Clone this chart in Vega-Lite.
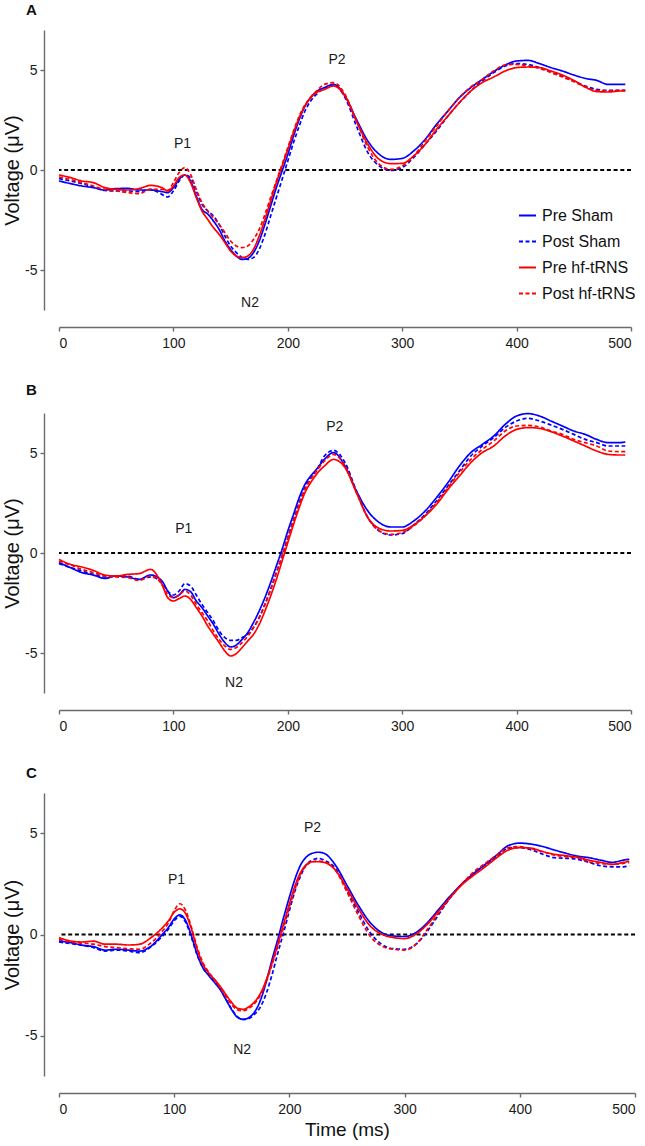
{
  "$schema": "https://vega.github.io/schema/vega-lite/v6.json",
  "background": "white",
  "padding": {"left": 2, "top": 3, "right": 4, "bottom": 2},
  "config": {
    "view": {"stroke": null},
    "font": "Liberation Sans",
    "axis": {"grid": false, "domainColor": "#6b6b6b", "tickColor": "#6b6b6b", "domainWidth": 1.4, "tickWidth": 1.4, "labelColor": "#1a1a1a", "titleColor": "#111111", "labelFont": "Liberation Sans", "titleFont": "Liberation Sans", "labelFontSize": 14, "titleFontSize": 19, "titleFontWeight": "normal", "tickSize": 4, "labelExpr": "'' + datum.value"},
    "axisX": {"offset": 17, "labelPadding": 5, "titlePadding": 4},
    "axisY": {"offset": 15, "labelPadding": 3, "titlePadding": 2, "titleFontSize": 20},
    "title": {"anchor": "start", "frame": "group", "dx": -33, "offset": 12, "fontSize": 15, "fontWeight": "bold", "font": "Liberation Sans", "color": "#111111"},
    "text": {"font": "Liberation Sans"}
  },
  "datasets": {
    "A": [
      {"t":0,"Pre Sham":-0.55,"Post Sham":-0.43,"Pre hf-tRNS":-0.25,"Post hf-tRNS":-0.35},
      {"t":10,"Pre Sham":-0.68,"Post Sham":-0.55,"Pre hf-tRNS":-0.38,"Post hf-tRNS":-0.47},
      {"t":20,"Pre Sham":-0.8,"Post Sham":-0.68,"Pre hf-tRNS":-0.55,"Post hf-tRNS":-0.63},
      {"t":30,"Pre Sham":-0.88,"Post Sham":-0.85,"Pre hf-tRNS":-0.63,"Post hf-tRNS":-0.8},
      {"t":40,"Pre Sham":-1.0,"Post Sham":-1.02,"Pre hf-tRNS":-0.88,"Post hf-tRNS":-0.97},
      {"t":50,"Pre Sham":-0.93,"Post Sham":-1.05,"Pre hf-tRNS":-0.97,"Post hf-tRNS":-1.05},
      {"t":60,"Pre Sham":-0.92,"Post Sham":-1.05,"Pre hf-tRNS":-1.0,"Post hf-tRNS":-1.13},
      {"t":70,"Pre Sham":-1.0,"Post Sham":-1.08,"Pre hf-tRNS":-0.93,"Post hf-tRNS":-1.18},
      {"t":80,"Pre Sham":-1.0,"Post Sham":-0.97,"Pre hf-tRNS":-0.77,"Post hf-tRNS":-0.97},
      {"t":90,"Pre Sham":-1.08,"Post Sham":-1.22,"Pre hf-tRNS":-0.88,"Post hf-tRNS":-0.97},
      {"t":95,"Pre Sham":-1.13,"Post Sham":-1.35,"Pre hf-tRNS":-1.05,"Post hf-tRNS":-1.02},
      {"t":100,"Pre Sham":-0.88,"Post Sham":-1.05,"Pre hf-tRNS":-0.8,"Post hf-tRNS":-0.63},
      {"t":105,"Pre Sham":-0.47,"Post Sham":-0.55,"Pre hf-tRNS":-0.38,"Post hf-tRNS":-0.13},
      {"t":110,"Pre Sham":-0.25,"Post Sham":-0.25,"Pre hf-tRNS":-0.25,"Post hf-tRNS":0.12},
      {"t":115,"Pre Sham":-0.55,"Post Sham":-0.38,"Pre hf-tRNS":-0.63,"Post hf-tRNS":-0.22},
      {"t":120,"Pre Sham":-1.3,"Post Sham":-1.05,"Pre hf-tRNS":-1.38,"Post hf-tRNS":-0.97},
      {"t":125,"Pre Sham":-1.97,"Post Sham":-1.72,"Pre hf-tRNS":-2.05,"Post hf-tRNS":-1.63},
      {"t":130,"Pre Sham":-2.2,"Post Sham":-2.05,"Pre hf-tRNS":-2.47,"Post hf-tRNS":-2.05},
      {"t":135,"Pre Sham":-2.55,"Post Sham":-2.3,"Pre hf-tRNS":-2.88,"Post hf-tRNS":-2.38},
      {"t":140,"Pre Sham":-2.97,"Post Sham":-2.72,"Pre hf-tRNS":-3.22,"Post hf-tRNS":-2.72},
      {"t":145,"Pre Sham":-3.55,"Post Sham":-3.3,"Pre hf-tRNS":-3.63,"Post hf-tRNS":-3.13},
      {"t":150,"Pre Sham":-3.97,"Post Sham":-3.8,"Pre hf-tRNS":-4.05,"Post hf-tRNS":-3.55},
      {"t":155,"Pre Sham":-4.3,"Post Sham":-4.13,"Pre hf-tRNS":-4.3,"Post hf-tRNS":-3.8},
      {"t":160,"Pre Sham":-4.47,"Post Sham":-4.38,"Pre hf-tRNS":-4.38,"Post hf-tRNS":-3.88},
      {"t":165,"Pre Sham":-4.42,"Post Sham":-4.47,"Pre hf-tRNS":-4.3,"Post hf-tRNS":-3.8},
      {"t":170,"Pre Sham":-4.13,"Post Sham":-4.38,"Pre hf-tRNS":-3.97,"Post hf-tRNS":-3.47},
      {"t":175,"Pre Sham":-3.55,"Post Sham":-3.97,"Pre hf-tRNS":-3.3,"Post hf-tRNS":-2.97},
      {"t":180,"Pre Sham":-2.72,"Post Sham":-3.22,"Pre hf-tRNS":-2.47,"Post hf-tRNS":-2.22},
      {"t":185,"Pre Sham":-1.8,"Post Sham":-2.3,"Pre hf-tRNS":-1.55,"Post hf-tRNS":-1.38},
      {"t":190,"Pre Sham":-0.88,"Post Sham":-1.38,"Pre hf-tRNS":-0.63,"Post hf-tRNS":-0.55},
      {"t":195,"Pre Sham":-0.05,"Post Sham":-0.47,"Pre hf-tRNS":0.2,"Post hf-tRNS":0.28},
      {"t":200,"Pre Sham":0.78,"Post Sham":0.45,"Pre hf-tRNS":1.03,"Post hf-tRNS":1.12},
      {"t":205,"Pre Sham":1.7,"Post Sham":1.37,"Pre hf-tRNS":1.87,"Post hf-tRNS":1.95},
      {"t":210,"Pre Sham":2.53,"Post Sham":2.2,"Pre hf-tRNS":2.62,"Post hf-tRNS":2.7},
      {"t":215,"Pre Sham":3.2,"Post Sham":2.95,"Pre hf-tRNS":3.2,"Post hf-tRNS":3.25},
      {"t":220,"Pre Sham":3.62,"Post Sham":3.45,"Pre hf-tRNS":3.62,"Post hf-tRNS":3.65},
      {"t":225,"Pre Sham":3.92,"Post Sham":3.78,"Pre hf-tRNS":3.87,"Post hf-tRNS":3.95},
      {"t":232,"Pre Sham":4.12,"Post Sham":4.08,"Pre hf-tRNS":4.03,"Post hf-tRNS":4.28},
      {"t":240,"Pre Sham":4.28,"Post Sham":4.25,"Pre hf-tRNS":4.2,"Post hf-tRNS":4.37},
      {"t":250,"Pre Sham":3.7,"Post Sham":3.62,"Pre hf-tRNS":3.7,"Post hf-tRNS":3.78},
      {"t":260,"Pre Sham":2.53,"Post Sham":2.2,"Pre hf-tRNS":2.45,"Post hf-tRNS":2.45},
      {"t":270,"Pre Sham":1.45,"Post Sham":0.87,"Pre hf-tRNS":1.28,"Post hf-tRNS":1.12},
      {"t":280,"Pre Sham":0.78,"Post Sham":0.2,"Pre hf-tRNS":0.53,"Post hf-tRNS":0.28},
      {"t":290,"Pre Sham":0.53,"Post Sham":-0.02,"Pre hf-tRNS":0.32,"Post hf-tRNS":0.03},
      {"t":300,"Pre Sham":0.58,"Post Sham":0.12,"Pre hf-tRNS":0.33,"Post hf-tRNS":0.2},
      {"t":310,"Pre Sham":0.95,"Post Sham":0.62,"Pre hf-tRNS":0.7,"Post hf-tRNS":0.7},
      {"t":320,"Pre Sham":1.53,"Post Sham":1.28,"Pre hf-tRNS":1.28,"Post hf-tRNS":1.45},
      {"t":330,"Pre Sham":2.28,"Post Sham":1.95,"Pre hf-tRNS":2.03,"Post hf-tRNS":2.2},
      {"t":340,"Pre Sham":2.95,"Post Sham":2.7,"Pre hf-tRNS":2.7,"Post hf-tRNS":2.95},
      {"t":350,"Pre Sham":3.62,"Post Sham":3.37,"Pre hf-tRNS":3.37,"Post hf-tRNS":3.62},
      {"t":360,"Pre Sham":4.12,"Post Sham":3.95,"Pre hf-tRNS":3.95,"Post hf-tRNS":4.15},
      {"t":370,"Pre Sham":4.53,"Post Sham":4.45,"Pre hf-tRNS":4.37,"Post hf-tRNS":4.53},
      {"t":380,"Pre Sham":4.92,"Post Sham":4.87,"Pre hf-tRNS":4.65,"Post hf-tRNS":4.95},
      {"t":390,"Pre Sham":5.25,"Post Sham":5.2,"Pre hf-tRNS":4.95,"Post hf-tRNS":5.25},
      {"t":400,"Pre Sham":5.45,"Post Sham":5.32,"Pre hf-tRNS":5.12,"Post hf-tRNS":5.28},
      {"t":410,"Pre Sham":5.48,"Post Sham":5.28,"Pre hf-tRNS":5.15,"Post hf-tRNS":5.2},
      {"t":420,"Pre Sham":5.32,"Post Sham":5.12,"Pre hf-tRNS":5.12,"Post hf-tRNS":5.08},
      {"t":430,"Pre Sham":5.12,"Post Sham":4.92,"Pre hf-tRNS":4.95,"Post hf-tRNS":4.87},
      {"t":440,"Pre Sham":4.95,"Post Sham":4.7,"Pre hf-tRNS":4.75,"Post hf-tRNS":4.65},
      {"t":450,"Pre Sham":4.75,"Post Sham":4.45,"Pre hf-tRNS":4.48,"Post hf-tRNS":4.42},
      {"t":460,"Pre Sham":4.58,"Post Sham":4.2,"Pre hf-tRNS":4.15,"Post hf-tRNS":4.15},
      {"t":470,"Pre Sham":4.48,"Post Sham":4.03,"Pre hf-tRNS":3.92,"Post hf-tRNS":3.98},
      {"t":480,"Pre Sham":4.28,"Post Sham":3.98,"Pre hf-tRNS":3.9,"Post hf-tRNS":3.95},
      {"t":490,"Pre Sham":4.28,"Post Sham":3.98,"Pre hf-tRNS":3.95,"Post hf-tRNS":3.98},
      {"t":495,"Pre Sham":4.28,"Post Sham":3.98,"Pre hf-tRNS":3.95,"Post hf-tRNS":3.98}
    ],
    "B": [
      {"t":0,"Pre Sham":-0.48,"Post Sham":-0.53,"Pre hf-tRNS":-0.32,"Post hf-tRNS":-0.4},
      {"t":10,"Pre Sham":-0.73,"Post Sham":-0.73,"Pre hf-tRNS":-0.57,"Post hf-tRNS":-0.6},
      {"t":20,"Pre Sham":-0.98,"Post Sham":-0.9,"Pre hf-tRNS":-0.7,"Post hf-tRNS":-0.82},
      {"t":30,"Pre Sham":-1.1,"Post Sham":-1.07,"Pre hf-tRNS":-0.87,"Post hf-tRNS":-0.98},
      {"t":40,"Pre Sham":-1.27,"Post Sham":-1.2,"Pre hf-tRNS":-1.1,"Post hf-tRNS":-1.15},
      {"t":50,"Pre Sham":-1.15,"Post Sham":-1.15,"Pre hf-tRNS":-1.15,"Post hf-tRNS":-1.2},
      {"t":60,"Pre Sham":-1.2,"Post Sham":-1.15,"Pre hf-tRNS":-1.07,"Post hf-tRNS":-1.23},
      {"t":70,"Pre Sham":-1.32,"Post Sham":-1.32,"Pre hf-tRNS":-1.03,"Post hf-tRNS":-1.37},
      {"t":80,"Pre Sham":-1.1,"Post Sham":-1.2,"Pre hf-tRNS":-0.82,"Post hf-tRNS":-1.15},
      {"t":90,"Pre Sham":-1.4,"Post Sham":-1.48,"Pre hf-tRNS":-1.57,"Post hf-tRNS":-1.57},
      {"t":95,"Pre Sham":-1.9,"Post Sham":-1.9,"Pre hf-tRNS":-2.23,"Post hf-tRNS":-2.07},
      {"t":100,"Pre Sham":-2.23,"Post Sham":-2.1,"Pre hf-tRNS":-2.4,"Post hf-tRNS":-2.23},
      {"t":105,"Pre Sham":-2.1,"Post Sham":-1.9,"Pre hf-tRNS":-2.28,"Post hf-tRNS":-2.1},
      {"t":110,"Pre Sham":-1.82,"Post Sham":-1.53,"Pre hf-tRNS":-2.15,"Post hf-tRNS":-1.9},
      {"t":115,"Pre Sham":-1.93,"Post Sham":-1.65,"Pre hf-tRNS":-2.32,"Post hf-tRNS":-2.1},
      {"t":120,"Pre Sham":-2.4,"Post Sham":-2.1,"Pre hf-tRNS":-2.73,"Post hf-tRNS":-2.57},
      {"t":125,"Pre Sham":-2.73,"Post Sham":-2.57,"Pre hf-tRNS":-3.15,"Post hf-tRNS":-2.98},
      {"t":130,"Pre Sham":-3.15,"Post Sham":-2.98,"Pre hf-tRNS":-3.65,"Post hf-tRNS":-3.4},
      {"t":135,"Pre Sham":-3.57,"Post Sham":-3.4,"Pre hf-tRNS":-4.07,"Post hf-tRNS":-3.9},
      {"t":140,"Pre Sham":-4.07,"Post Sham":-3.9,"Pre hf-tRNS":-4.48,"Post hf-tRNS":-4.32},
      {"t":145,"Pre Sham":-4.48,"Post Sham":-4.23,"Pre hf-tRNS":-4.9,"Post hf-tRNS":-4.65},
      {"t":150,"Pre Sham":-4.7,"Post Sham":-4.37,"Pre hf-tRNS":-5.15,"Post hf-tRNS":-4.82},
      {"t":155,"Pre Sham":-4.6,"Post Sham":-4.37,"Pre hf-tRNS":-5.03,"Post hf-tRNS":-4.73},
      {"t":160,"Pre Sham":-4.32,"Post Sham":-4.23,"Pre hf-tRNS":-4.73,"Post hf-tRNS":-4.48},
      {"t":165,"Pre Sham":-3.98,"Post Sham":-4.07,"Pre hf-tRNS":-4.4,"Post hf-tRNS":-4.15},
      {"t":170,"Pre Sham":-3.48,"Post Sham":-3.73,"Pre hf-tRNS":-4.07,"Post hf-tRNS":-3.73},
      {"t":175,"Pre Sham":-2.9,"Post Sham":-3.23,"Pre hf-tRNS":-3.57,"Post hf-tRNS":-3.23},
      {"t":180,"Pre Sham":-2.23,"Post Sham":-2.57,"Pre hf-tRNS":-2.9,"Post hf-tRNS":-2.57},
      {"t":185,"Pre Sham":-1.48,"Post Sham":-1.82,"Pre hf-tRNS":-2.15,"Post hf-tRNS":-1.82},
      {"t":190,"Pre Sham":-0.65,"Post Sham":-0.98,"Pre hf-tRNS":-1.32,"Post hf-tRNS":-0.98},
      {"t":195,"Pre Sham":0.18,"Post Sham":-0.15,"Pre hf-tRNS":-0.4,"Post hf-tRNS":-0.15},
      {"t":200,"Pre Sham":1.1,"Post Sham":0.77,"Pre hf-tRNS":0.52,"Post hf-tRNS":0.77},
      {"t":205,"Pre Sham":1.93,"Post Sham":1.68,"Pre hf-tRNS":1.43,"Post hf-tRNS":1.63},
      {"t":210,"Pre Sham":2.77,"Post Sham":2.52,"Pre hf-tRNS":2.27,"Post hf-tRNS":2.43},
      {"t":215,"Pre Sham":3.43,"Post Sham":3.27,"Pre hf-tRNS":3.02,"Post hf-tRNS":3.18},
      {"t":220,"Pre Sham":3.85,"Post Sham":3.77,"Pre hf-tRNS":3.52,"Post hf-tRNS":3.68},
      {"t":225,"Pre Sham":4.18,"Post Sham":4.1,"Pre hf-tRNS":3.93,"Post hf-tRNS":4.1},
      {"t":232,"Pre Sham":4.68,"Post Sham":4.85,"Pre hf-tRNS":4.35,"Post hf-tRNS":4.6},
      {"t":240,"Pre Sham":5.02,"Post Sham":5.13,"Pre hf-tRNS":4.68,"Post hf-tRNS":4.93},
      {"t":250,"Pre Sham":4.35,"Post Sham":4.52,"Pre hf-tRNS":4.27,"Post hf-tRNS":4.35},
      {"t":260,"Pre Sham":3.1,"Post Sham":3.1,"Pre hf-tRNS":3.02,"Post hf-tRNS":3.02},
      {"t":270,"Pre Sham":2.1,"Post Sham":1.77,"Pre hf-tRNS":1.77,"Post hf-tRNS":1.77},
      {"t":280,"Pre Sham":1.52,"Post Sham":1.1,"Pre hf-tRNS":1.23,"Post hf-tRNS":1.1},
      {"t":290,"Pre Sham":1.3,"Post Sham":0.9,"Pre hf-tRNS":1.1,"Post hf-tRNS":0.93},
      {"t":300,"Pre Sham":1.3,"Post Sham":0.97,"Pre hf-tRNS":1.13,"Post hf-tRNS":1.02},
      {"t":310,"Pre Sham":1.6,"Post Sham":1.4,"Pre hf-tRNS":1.4,"Post hf-tRNS":1.35},
      {"t":320,"Pre Sham":2.1,"Post Sham":1.93,"Pre hf-tRNS":1.85,"Post hf-tRNS":1.85},
      {"t":330,"Pre Sham":2.77,"Post Sham":2.6,"Pre hf-tRNS":2.43,"Post hf-tRNS":2.52},
      {"t":340,"Pre Sham":3.52,"Post Sham":3.35,"Pre hf-tRNS":3.18,"Post hf-tRNS":3.27},
      {"t":350,"Pre Sham":4.35,"Post Sham":4.1,"Pre hf-tRNS":3.85,"Post hf-tRNS":4.02},
      {"t":360,"Pre Sham":5.02,"Post Sham":4.85,"Pre hf-tRNS":4.52,"Post hf-tRNS":4.68},
      {"t":370,"Pre Sham":5.43,"Post Sham":5.35,"Pre hf-tRNS":5.02,"Post hf-tRNS":5.18},
      {"t":380,"Pre Sham":5.85,"Post Sham":5.77,"Pre hf-tRNS":5.35,"Post hf-tRNS":5.6},
      {"t":390,"Pre Sham":6.43,"Post Sham":6.27,"Pre hf-tRNS":5.85,"Post hf-tRNS":6.1},
      {"t":400,"Pre Sham":6.85,"Post Sham":6.6,"Pre hf-tRNS":6.18,"Post hf-tRNS":6.35},
      {"t":410,"Pre Sham":6.97,"Post Sham":6.73,"Pre hf-tRNS":6.27,"Post hf-tRNS":6.38},
      {"t":420,"Pre Sham":6.85,"Post Sham":6.6,"Pre hf-tRNS":6.23,"Post hf-tRNS":6.3},
      {"t":430,"Pre Sham":6.6,"Post Sham":6.4,"Pre hf-tRNS":6.07,"Post hf-tRNS":6.1},
      {"t":440,"Pre Sham":6.35,"Post Sham":6.18,"Pre hf-tRNS":5.85,"Post hf-tRNS":5.93},
      {"t":450,"Pre Sham":6.1,"Post Sham":5.93,"Pre hf-tRNS":5.6,"Post hf-tRNS":5.68},
      {"t":460,"Pre Sham":5.93,"Post Sham":5.68,"Pre hf-tRNS":5.35,"Post hf-tRNS":5.52},
      {"t":470,"Pre Sham":5.68,"Post Sham":5.52,"Pre hf-tRNS":5.1,"Post hf-tRNS":5.35},
      {"t":480,"Pre Sham":5.52,"Post Sham":5.35,"Pre hf-tRNS":4.93,"Post hf-tRNS":5.1},
      {"t":490,"Pre Sham":5.52,"Post Sham":5.35,"Pre hf-tRNS":4.9,"Post hf-tRNS":5.07},
      {"t":495,"Pre Sham":5.55,"Post Sham":5.35,"Pre hf-tRNS":4.9,"Post hf-tRNS":5.07}
    ],
    "C": [
      {"t":0,"Pre Sham":-0.32,"Post Sham":-0.37,"Pre hf-tRNS":-0.15,"Post hf-tRNS":-0.23},
      {"t":10,"Pre Sham":-0.4,"Post Sham":-0.45,"Pre hf-tRNS":-0.32,"Post hf-tRNS":-0.37},
      {"t":20,"Pre Sham":-0.53,"Post Sham":-0.53,"Pre hf-tRNS":-0.37,"Post hf-tRNS":-0.43},
      {"t":30,"Pre Sham":-0.6,"Post Sham":-0.65,"Pre hf-tRNS":-0.33,"Post hf-tRNS":-0.48},
      {"t":40,"Pre Sham":-0.77,"Post Sham":-0.82,"Pre hf-tRNS":-0.48,"Post hf-tRNS":-0.6},
      {"t":50,"Pre Sham":-0.73,"Post Sham":-0.77,"Pre hf-tRNS":-0.48,"Post hf-tRNS":-0.65},
      {"t":60,"Pre Sham":-0.77,"Post Sham":-0.82,"Pre hf-tRNS":-0.52,"Post hf-tRNS":-0.7},
      {"t":70,"Pre Sham":-0.82,"Post Sham":-0.9,"Pre hf-tRNS":-0.48,"Post hf-tRNS":-0.73},
      {"t":80,"Pre Sham":-0.57,"Post Sham":-0.6,"Pre hf-tRNS":-0.15,"Post hf-tRNS":-0.4},
      {"t":90,"Pre Sham":0.02,"Post Sham":-0.07,"Pre hf-tRNS":0.35,"Post hf-tRNS":0.18},
      {"t":95,"Pre Sham":0.35,"Post Sham":0.27,"Pre hf-tRNS":0.68,"Post hf-tRNS":0.57},
      {"t":100,"Pre Sham":0.77,"Post Sham":0.68,"Pre hf-tRNS":1.1,"Post hf-tRNS":1.18},
      {"t":105,"Pre Sham":0.97,"Post Sham":0.9,"Pre hf-tRNS":1.27,"Post hf-tRNS":1.52},
      {"t":110,"Pre Sham":0.68,"Post Sham":0.6,"Pre hf-tRNS":1.02,"Post hf-tRNS":1.18},
      {"t":115,"Pre Sham":-0.07,"Post Sham":-0.15,"Pre hf-tRNS":0.27,"Post hf-tRNS":0.35},
      {"t":120,"Pre Sham":-0.98,"Post Sham":-1.03,"Pre hf-tRNS":-0.73,"Post hf-tRNS":-0.65},
      {"t":125,"Pre Sham":-1.65,"Post Sham":-1.65,"Pre hf-tRNS":-1.48,"Post hf-tRNS":-1.4},
      {"t":130,"Pre Sham":-2.03,"Post Sham":-1.98,"Pre hf-tRNS":-1.9,"Post hf-tRNS":-1.87},
      {"t":135,"Pre Sham":-2.37,"Post Sham":-2.32,"Pre hf-tRNS":-2.23,"Post hf-tRNS":-2.23},
      {"t":140,"Pre Sham":-2.73,"Post Sham":-2.7,"Pre hf-tRNS":-2.57,"Post hf-tRNS":-2.65},
      {"t":145,"Pre Sham":-3.23,"Post Sham":-3.2,"Pre hf-tRNS":-2.98,"Post hf-tRNS":-3.07},
      {"t":150,"Pre Sham":-3.73,"Post Sham":-3.7,"Pre hf-tRNS":-3.37,"Post hf-tRNS":-3.48},
      {"t":155,"Pre Sham":-4.1,"Post Sham":-4.07,"Pre hf-tRNS":-3.65,"Post hf-tRNS":-3.73},
      {"t":160,"Pre Sham":-4.2,"Post Sham":-4.2,"Pre hf-tRNS":-3.7,"Post hf-tRNS":-3.77},
      {"t":165,"Pre Sham":-4.1,"Post Sham":-4.15,"Pre hf-tRNS":-3.57,"Post hf-tRNS":-3.65},
      {"t":170,"Pre Sham":-3.82,"Post Sham":-3.93,"Pre hf-tRNS":-3.32,"Post hf-tRNS":-3.4},
      {"t":175,"Pre Sham":-3.23,"Post Sham":-3.57,"Pre hf-tRNS":-2.9,"Post hf-tRNS":-2.98},
      {"t":180,"Pre Sham":-2.32,"Post Sham":-2.9,"Pre hf-tRNS":-2.23,"Post hf-tRNS":-2.32},
      {"t":185,"Pre Sham":-1.23,"Post Sham":-1.98,"Pre hf-tRNS":-1.4,"Post hf-tRNS":-1.48},
      {"t":190,"Pre Sham":-0.23,"Post Sham":-0.9,"Pre hf-tRNS":-0.48,"Post hf-tRNS":-0.57},
      {"t":195,"Pre Sham":0.85,"Post Sham":0.1,"Pre hf-tRNS":0.52,"Post hf-tRNS":0.35},
      {"t":200,"Pre Sham":1.85,"Post Sham":1.18,"Pre hf-tRNS":1.52,"Post hf-tRNS":1.35},
      {"t":205,"Pre Sham":2.77,"Post Sham":2.18,"Pre hf-tRNS":2.43,"Post hf-tRNS":2.27},
      {"t":210,"Pre Sham":3.47,"Post Sham":2.93,"Pre hf-tRNS":3.1,"Post hf-tRNS":3.02},
      {"t":215,"Pre Sham":3.85,"Post Sham":3.47,"Pre hf-tRNS":3.47,"Post hf-tRNS":3.43},
      {"t":220,"Pre Sham":4.02,"Post Sham":3.68,"Pre hf-tRNS":3.6,"Post hf-tRNS":3.6},
      {"t":225,"Pre Sham":4.07,"Post Sham":3.77,"Pre hf-tRNS":3.6,"Post hf-tRNS":3.63},
      {"t":230,"Pre Sham":4.02,"Post Sham":3.68,"Pre hf-tRNS":3.57,"Post hf-tRNS":3.6},
      {"t":240,"Pre Sham":3.43,"Post Sham":3.27,"Pre hf-tRNS":3.18,"Post hf-tRNS":3.18},
      {"t":250,"Pre Sham":2.43,"Post Sham":2.18,"Pre hf-tRNS":2.27,"Post hf-tRNS":2.1},
      {"t":260,"Pre Sham":1.43,"Post Sham":1.1,"Pre hf-tRNS":1.27,"Post hf-tRNS":0.93},
      {"t":270,"Pre Sham":0.6,"Post Sham":0.1,"Pre hf-tRNS":0.43,"Post hf-tRNS":-0.07},
      {"t":280,"Pre Sham":0.1,"Post Sham":-0.48,"Pre hf-tRNS":0.02,"Post hf-tRNS":-0.57},
      {"t":290,"Pre Sham":-0.07,"Post Sham":-0.7,"Pre hf-tRNS":-0.15,"Post hf-tRNS":-0.73},
      {"t":300,"Pre Sham":-0.1,"Post Sham":-0.73,"Pre hf-tRNS":-0.2,"Post hf-tRNS":-0.77},
      {"t":310,"Pre Sham":0.1,"Post Sham":-0.48,"Pre hf-tRNS":0.02,"Post hf-tRNS":-0.48},
      {"t":320,"Pre Sham":0.6,"Post Sham":0.18,"Pre hf-tRNS":0.52,"Post hf-tRNS":0.27},
      {"t":330,"Pre Sham":1.27,"Post Sham":1.02,"Pre hf-tRNS":1.18,"Post hf-tRNS":1.1},
      {"t":340,"Pre Sham":1.93,"Post Sham":1.85,"Pre hf-tRNS":1.85,"Post hf-tRNS":1.85},
      {"t":350,"Pre Sham":2.52,"Post Sham":2.52,"Pre hf-tRNS":2.47,"Post hf-tRNS":2.52},
      {"t":360,"Pre Sham":3.02,"Post Sham":3.02,"Pre hf-tRNS":2.93,"Post hf-tRNS":3.1},
      {"t":370,"Pre Sham":3.47,"Post Sham":3.43,"Pre hf-tRNS":3.35,"Post hf-tRNS":3.52},
      {"t":380,"Pre Sham":3.93,"Post Sham":3.85,"Pre hf-tRNS":3.8,"Post hf-tRNS":3.93},
      {"t":390,"Pre Sham":4.4,"Post Sham":4.27,"Pre hf-tRNS":4.18,"Post hf-tRNS":4.3},
      {"t":400,"Pre Sham":4.52,"Post Sham":4.3,"Pre hf-tRNS":4.3,"Post hf-tRNS":4.35},
      {"t":410,"Pre Sham":4.47,"Post Sham":4.18,"Pre hf-tRNS":4.27,"Post hf-tRNS":4.23},
      {"t":420,"Pre Sham":4.35,"Post Sham":3.97,"Pre hf-tRNS":4.1,"Post hf-tRNS":4.1},
      {"t":430,"Pre Sham":4.18,"Post Sham":3.8,"Pre hf-tRNS":3.97,"Post hf-tRNS":3.93},
      {"t":440,"Pre Sham":4.02,"Post Sham":3.77,"Pre hf-tRNS":3.9,"Post hf-tRNS":3.85},
      {"t":450,"Pre Sham":3.88,"Post Sham":3.72,"Pre hf-tRNS":3.82,"Post hf-tRNS":3.8},
      {"t":460,"Pre Sham":3.8,"Post Sham":3.57,"Pre hf-tRNS":3.68,"Post hf-tRNS":3.6},
      {"t":470,"Pre Sham":3.68,"Post Sham":3.4,"Pre hf-tRNS":3.57,"Post hf-tRNS":3.52},
      {"t":480,"Pre Sham":3.57,"Post Sham":3.35,"Pre hf-tRNS":3.47,"Post hf-tRNS":3.47},
      {"t":490,"Pre Sham":3.68,"Post Sham":3.35,"Pre hf-tRNS":3.57,"Post hf-tRNS":3.52},
      {"t":495,"Pre Sham":3.73,"Post Sham":3.4,"Pre hf-tRNS":3.63,"Post hf-tRNS":3.57}
    ],
    "ann": [
      {"panel":"A","label":"P1","t":108,"v":1.3},
      {"panel":"A","label":"N2","t":167,"v":-6.65},
      {"panel":"A","label":"P2","t":243,"v":5.5},
      {"panel":"B","label":"P1","t":109,"v":1.22},
      {"panel":"B","label":"N2","t":153,"v":-6.5},
      {"panel":"B","label":"P2","t":241,"v":6.3},
      {"panel":"C","label":"P1","t":102,"v":2.7},
      {"panel":"C","label":"N2","t":159,"v":-5.73},
      {"panel":"C","label":"P2","t":220,"v":5.26}
    ]
  },
  "spacing": 33,
  "resolve": {"scale": {"color": "independent", "strokeDash": "independent"}},
  "vconcat": [
    {
      "width": 572, "height": 280,
      "title": {"text": "A"},
      "layer": [
        {"data": {"values": [{}]}, "mark": {"type": "rule", "color": "#000000", "strokeWidth": 1.8, "strokeDash": [4, 2.7]},
         "encoding": {"y": {"datum": 0, "type": "quantitative", "scale": {"domain": [-7, 7]}, "title": "Voltage (μV)", "axis": {"values": [-5, 0, 5]}}}},
        {"data": {"name": "A"},
         "transform": [{"fold": ["Pre Sham", "Post Sham", "Pre hf-tRNS", "Post hf-tRNS"], "as": ["s", "v"]}],
         "mark": {"type": "line", "interpolate": "monotone", "strokeWidth": 1.7},
         "encoding": {
           "x": {"field": "t", "type": "quantitative", "scale": {"domain": [0, 500], "nice": false}, "title": null, "axis": {"values": [0, 100, 200, 300, 400, 500]}},
           "y": {"field": "v", "type": "quantitative", "scale": {"domain": [-7, 7]}, "title": "Voltage (μV)", "axis": {"values": [-5, 0, 5]}},
           "color": {"field": "s", "type": "nominal", "scale": {"domain": ["Pre Sham", "Post Sham", "Pre hf-tRNS", "Post hf-tRNS"], "range": ["#0000ff", "#0000ff", "#ff0000", "#ff0000"]},
             "legend": {"orient": "none", "legendX": 459, "legendY": 176, "title": null, "labelFontSize": 16, "labelFont": "Liberation Sans", "labelColor": "#111111", "symbolType": "stroke", "symbolSize": 289, "symbolStrokeWidth": 2, "labelOffset": 5, "rowPadding": 8}},
           "strokeDash": {"field": "s", "type": "nominal", "scale": {"domain": ["Pre Sham", "Post Sham", "Pre hf-tRNS", "Post hf-tRNS"], "range": [[1, 0], [4, 2.5], [1, 0], [4, 2.5]]},
             "legend": {"orient": "none", "legendX": 459, "legendY": 176, "title": null, "labelFontSize": 16, "labelFont": "Liberation Sans", "labelColor": "#111111", "symbolType": "stroke", "symbolSize": 289, "symbolStrokeWidth": 2, "labelOffset": 5, "rowPadding": 8}}
         }},
        {"data": {"name": "ann"}, "transform": [{"filter": "datum.panel === 'A'"}],
         "mark": {"type": "text", "fontSize": 14, "color": "#1a1a1a"},
         "encoding": {"x": {"field": "t", "type": "quantitative", "title": null, "axis": {"values": [0, 100, 200, 300, 400, 500]}}, "y": {"field": "v", "type": "quantitative", "title": "Voltage (μV)", "axis": {"values": [-5, 0, 5]}}, "text": {"field": "label"}}}
      ]
    },
    {
      "width": 572, "height": 280,
      "title": {"text": "B"},
      "layer": [
        {"data": {"values": [{}]}, "mark": {"type": "rule", "color": "#000000", "strokeWidth": 1.8, "strokeDash": [4, 2.7]},
         "encoding": {"y": {"datum": 0, "type": "quantitative", "scale": {"domain": [-7, 7]}, "title": "Voltage (μV)", "axis": {"values": [-5, 0, 5]}}}},
        {"data": {"name": "B"},
         "transform": [{"fold": ["Pre Sham", "Post Sham", "Pre hf-tRNS", "Post hf-tRNS"], "as": ["s", "v"]}],
         "mark": {"type": "line", "interpolate": "monotone", "strokeWidth": 1.7},
         "encoding": {
           "x": {"field": "t", "type": "quantitative", "scale": {"domain": [0, 500], "nice": false}, "title": null, "axis": {"values": [0, 100, 200, 300, 400, 500]}},
           "y": {"field": "v", "type": "quantitative", "scale": {"domain": [-7, 7]}, "title": "Voltage (μV)", "axis": {"values": [-5, 0, 5]}},
           "color": {"field": "s", "type": "nominal", "scale": {"domain": ["Pre Sham", "Post Sham", "Pre hf-tRNS", "Post hf-tRNS"], "range": ["#0000ff", "#0000ff", "#ff0000", "#ff0000"]}, "legend": null},
           "strokeDash": {"field": "s", "type": "nominal", "scale": {"domain": ["Pre Sham", "Post Sham", "Pre hf-tRNS", "Post hf-tRNS"], "range": [[1, 0], [4, 2.5], [1, 0], [4, 2.5]]}, "legend": null}
         }},
        {"data": {"name": "ann"}, "transform": [{"filter": "datum.panel === 'B'"}],
         "mark": {"type": "text", "fontSize": 14, "color": "#1a1a1a"},
         "encoding": {"x": {"field": "t", "type": "quantitative", "title": null, "axis": {"values": [0, 100, 200, 300, 400, 500]}}, "y": {"field": "v", "type": "quantitative", "title": "Voltage (μV)", "axis": {"values": [-5, 0, 5]}}, "text": {"field": "label"}}}
      ]
    },
    {
      "width": 576, "height": 283,
      "title": {"text": "C"},
      "layer": [
        {"data": {"values": [{}]}, "mark": {"type": "rule", "color": "#000000", "strokeWidth": 1.8, "strokeDash": [4, 2.7]},
         "encoding": {"y": {"datum": 0, "type": "quantitative", "scale": {"domain": [-7, 7]}, "title": "Voltage (μV)", "axis": {"values": [-5, 0, 5]}}}},
        {"data": {"name": "C"},
         "transform": [{"fold": ["Pre Sham", "Post Sham", "Pre hf-tRNS", "Post hf-tRNS"], "as": ["s", "v"]}],
         "mark": {"type": "line", "interpolate": "monotone", "strokeWidth": 1.7},
         "encoding": {
           "x": {"field": "t", "type": "quantitative", "scale": {"domain": [0, 500], "nice": false}, "title": "Time (ms)", "axis": {"values": [0, 100, 200, 300, 400, 500]}},
           "y": {"field": "v", "type": "quantitative", "scale": {"domain": [-7, 7]}, "title": "Voltage (μV)", "axis": {"values": [-5, 0, 5]}},
           "color": {"field": "s", "type": "nominal", "scale": {"domain": ["Pre Sham", "Post Sham", "Pre hf-tRNS", "Post hf-tRNS"], "range": ["#0000ff", "#0000ff", "#ff0000", "#ff0000"]}, "legend": null},
           "strokeDash": {"field": "s", "type": "nominal", "scale": {"domain": ["Pre Sham", "Post Sham", "Pre hf-tRNS", "Post hf-tRNS"], "range": [[1, 0], [4, 2.5], [1, 0], [4, 2.5]]}, "legend": null}
         }},
        {"data": {"name": "ann"}, "transform": [{"filter": "datum.panel === 'C'"}],
         "mark": {"type": "text", "fontSize": 14, "color": "#1a1a1a"},
         "encoding": {"x": {"field": "t", "type": "quantitative", "title": "Time (ms)", "axis": {"values": [0, 100, 200, 300, 400, 500]}}, "y": {"field": "v", "type": "quantitative", "title": "Voltage (μV)", "axis": {"values": [-5, 0, 5]}}, "text": {"field": "label"}}}
      ]
    }
  ]
}
